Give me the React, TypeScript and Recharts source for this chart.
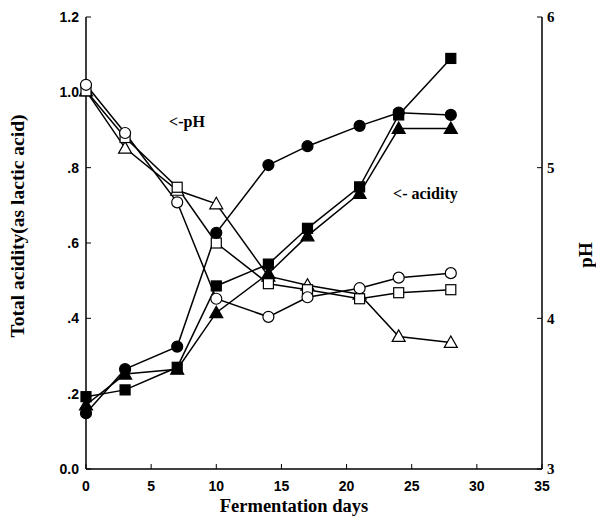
import React from "react";
import { LineChart, Line, XAxis, YAxis, ReferenceDot } from "recharts";

const days = [0, 3, 7, 10, 14, 17, 21, 24, 28];
// total acidity (left axis)
const acidCircle = [0.148, 0.265, 0.325, 0.627, 0.807, 0.857, 0.911, 0.946, 0.94];
const acidSquare = [0.192, 0.21, 0.27, 0.486, 0.544, 0.639, 0.749, 0.94, 1.09];
const acidTriangle = [0.17, 0.252, 0.265, 0.415, 0.519, 0.619, 0.732, 0.904, 0.904];
// pH (right axis)
const phCircle = [5.55, 5.23, 4.77, 4.13, 4.01, 4.14, 4.2, 4.27, 4.3];
const phSquare = [5.51, 5.2, 4.87, 4.5, 4.23, 4.19, 4.13, 4.17, 4.19];
const phTriangle = [5.51, 5.13, 4.85, 4.76, 4.28, 4.22, 4.16, 3.88, 3.84];

const xTicks = [0, 5, 10, 15, 20, 25, 30, 35];
const topTicks = [5, 10, 15, 20, 25, 30];
const leftTicks = [0, 0.2, 0.4, 0.6, 0.8, 1.0, 1.2];
const rightTicks = [3, 4, 5, 6];

const data = days.map((d, i) => ({
  day: d,
  aC: acidCircle[i],
  aS: acidSquare[i],
  aT: acidTriangle[i],
  pC: phCircle[i],
  pS: phSquare[i],
  pT: phTriangle[i],
}));

const SERIF = "'Liberation Serif', 'Times New Roman', serif";
const SANS = "'Liberation Sans', Arial, sans-serif";

const fmtLeft = (v: number) => {
  if (v === 0) return "0.0";
  if (Math.abs(v - 1) < 1e-9) return "1.0";
  if (Math.abs(v - 1.2) < 1e-9) return "1.2";
  return v.toFixed(1).replace(/^0/, "");
};

const makeDot = (shape: string, filled: boolean) => (props: any) => {
  const { cx, cy, index } = props;
  const fill = filled ? "#000" : "#fff";
  const common = { fill, stroke: "#000", strokeWidth: 1.2 };
  if (cx == null || cy == null) return <g key={`n${index}`} />;
  if (shape === "circle") return <circle key={`c${index}`} cx={cx} cy={cy} r={5.5} {...common} />;
  if (shape === "square")
    return <rect key={`s${index}`} x={cx - 5} y={cy - 5} width={10} height={10} {...common} />;
  return (
    <polygon
      key={`t${index}`}
      points={`${cx},${cy - 6.5} ${cx - 6.5},${cy + 5} ${cx + 6.5},${cy + 5}`}
      {...common}
    />
  );
};

export default function App() {
  return (
    <div style={{ width: 604, height: 526, margin: -8, background: "#fff" }}>
      <LineChart width={604} height={526} data={data} margin={{ top: 17, right: 0, bottom: 0, left: 0 }}>
        <XAxis
          xAxisId="bottom"
          dataKey="day"
          type="number"
          domain={[0, 35]}
          ticks={xTicks}
          height={57}
          tickSize={-5}
          tickMargin={17}
          stroke="#000"
          axisLine={{ stroke: "#000", strokeWidth: 1.5 }}
          tick={{ fill: "#000", fontFamily: SANS, fontWeight: "bold", fontSize: 14 }}
          label={{
            content: () => (
              <text x={294} y={506} textAnchor="middle" dominantBaseline="central" fontFamily={SERIF} fontWeight="bold" fontSize={18.5} fill="#000">
                Fermentation days
              </text>
            ),
          }}
        />
        <XAxis
          xAxisId="top"
          orientation="top"
          dataKey="day"
          type="number"
          domain={[0, 35]}
          ticks={topTicks}
          height={0}
          tickSize={-5}
          tickFormatter={() => ""}
          stroke="#000"
          axisLine={{ stroke: "#000", strokeWidth: 1.5 }}
        />
        <YAxis
          yAxisId="left"
          orientation="left"
          type="number"
          domain={[0, 1.2]}
          ticks={leftTicks}
          width={86}
          tickSize={-5}
          tickMargin={12}
          tickFormatter={fmtLeft}
          stroke="#000"
          axisLine={{ stroke: "#000", strokeWidth: 1.5 }}
          tick={{ fill: "#000", fontFamily: SANS, fontWeight: "bold", fontSize: 14 }}
          label={{
            content: () => (
              <text x={17} y={226} transform="rotate(-90 17 226)" textAnchor="middle" dominantBaseline="central" fontFamily={SERIF} fontWeight="bold" fontSize={19.5} fill="#000">
                Total acidity(as lactic acid)
              </text>
            ),
          }}
        />
        <YAxis
          yAxisId="right"
          orientation="right"
          type="number"
          domain={[3, 6]}
          ticks={rightTicks}
          width={62}
          tickSize={-5}
          tickMargin={10}
          stroke="#000"
          axisLine={{ stroke: "#000", strokeWidth: 1.5 }}
          tick={{ fill: "#000", fontFamily: SERIF, fontWeight: "bold", fontSize: 15 }}
          label={{
            content: () => (
              <text x={585} y={255} transform="rotate(-90 585 255)" textAnchor="middle" dominantBaseline="central" fontFamily={SERIF} fontWeight="bold" fontSize={19} fill="#000">
                pH
              </text>
            ),
          }}
        />
        <Line xAxisId="bottom" yAxisId="right" dataKey="pT" stroke="#000" strokeWidth={1.5} dot={makeDot("triangle", false)} isAnimationActive={false} />
        <Line xAxisId="bottom" yAxisId="right" dataKey="pS" stroke="#000" strokeWidth={1.5} dot={makeDot("square", false)} isAnimationActive={false} />
        <Line xAxisId="bottom" yAxisId="right" dataKey="pC" stroke="#000" strokeWidth={1.5} dot={makeDot("circle", false)} isAnimationActive={false} />
        <Line xAxisId="bottom" yAxisId="left" dataKey="aT" stroke="#000" strokeWidth={1.5} dot={makeDot("triangle", true)} isAnimationActive={false} />
        <Line xAxisId="bottom" yAxisId="left" dataKey="aS" stroke="#000" strokeWidth={1.5} dot={makeDot("square", true)} isAnimationActive={false} />
        <Line xAxisId="bottom" yAxisId="left" dataKey="aC" stroke="#000" strokeWidth={1.5} dot={makeDot("circle", true)} isAnimationActive={false} />
        <ReferenceDot
          xAxisId="bottom"
          yAxisId="left"
          x={7.75}
          y={0.922}
          r={0}
          stroke="none"
          fill="none"
          label={{ value: "<-pH", position: "center", fill: "#000", fontFamily: SERIF, fontWeight: "bold", fontSize: 16 }}
        />
        <ReferenceDot
          xAxisId="bottom"
          yAxisId="left"
          x={26.05}
          y={0.733}
          r={0}
          stroke="none"
          fill="none"
          label={{ value: "<- acidity", position: "center", fill: "#000", fontFamily: SERIF, fontWeight: "bold", fontSize: 16 }}
        />
      </LineChart>
    </div>
  );
}
